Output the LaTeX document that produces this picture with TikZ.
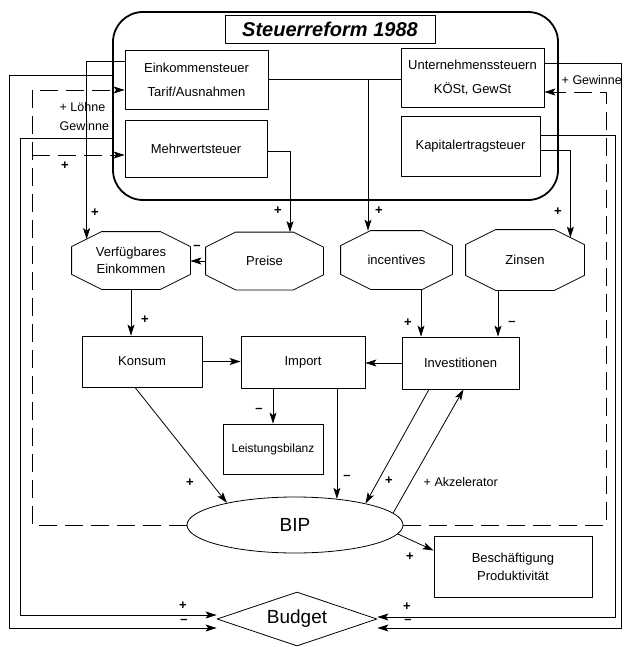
\documentclass[tikz,border=0pt]{standalone}
\usepackage{fontspec}
\setmainfont{Liberation Sans}
\usetikzlibrary{shapes.geometric,arrows.meta,calc}

\tikzset{
  kasten/.style={draw, align=center, inner sep=2pt},
  okt/.style={align=center, inner sep=0pt, minimum height=57pt},
  zeichen/.style={font=\fontsize{13}{13}\selectfont\bfseries},
  strich/.style={dash pattern=on 18pt off 8pt},
}
% Achteck um einen Knoten
\newcommand\achteck[1]{\draw ([xshift=30pt]#1.north west) -- ([xshift=-30pt]#1.north east) -- ([yshift=-15pt]#1.north east) -- ([yshift=15pt]#1.south east) -- ([xshift=-30pt]#1.south east) -- ([xshift=30pt]#1.south west) -- ([yshift=15pt]#1.south west) -- ([yshift=-15pt]#1.north west) -- cycle;}

\begin{document}
\begin{tikzpicture}[x=1pt, y=-1pt, line width=0.8pt, line join=round, >={Stealth[length=11pt,width=7pt,inset=2.5pt]}, font=\fontsize{13}{20}\selectfont]
\useasboundingbox (0,0) rectangle (623,647);
\coordinate (fla) at (9,0);   % links aussen
\coordinate (flb) at (20,0);  % links innen
\coordinate (flc) at (32,0);  % links gestrichelt
\coordinate (fra) at (621,0); % rechts aussen
\coordinate (frb) at (615,0); % rechts innen
\coordinate (frc) at (606,0); % rechts gestrichelt

% Steuerreform
\node[draw, line width=1.8pt, rounded corners=30pt, minimum width=445pt, minimum height=188pt] (reform) at (335.5,106) {};
\node[draw, minimum width=210pt, minimum height=28pt, font=\fontsize{20}{20}\selectfont\bfseries\itshape] (titel) at (330,29) {Steuerreform 1988};
\node[kasten, minimum width=143pt, minimum height=59pt] (ein) at (196.5,79.5) {Einkommensteuer\\[4pt]Tarif/Ausnahmen};
\node[kasten, minimum width=142pt, minimum height=57pt] (mwst) at (196,148.5) {Mehrwertsteuer};
\node[kasten, minimum width=143pt, minimum height=59pt] (unt) at (472.5,77.5) {Unternehmenssteuern\\[4pt]KÖSt, GewSt};
\node[kasten, minimum width=139pt, minimum height=60pt] (kap) at (470.5,146) {Kapitalertragsteuer};

% Achtecke
\node[okt, minimum width=118pt] (verf) at (131,260.5) {Verfügbares\\[-3pt]Einkommen};
\node[okt, minimum width=117pt] (preise) at (264.5,261) {Preise};
\node[okt, minimum width=111pt, minimum height=58pt] (inc) at (396.5,260) {incentives};
\node[okt, minimum width=118pt, minimum height=60pt] (zins) at (525,260) {Zinsen};
\foreach \n in {verf,preise,inc,zins} {\achteck{\n}}

\node[kasten, minimum width=120pt, minimum height=51pt] (kon) at (142,361.5) {Konsum};
\node[kasten, minimum width=124pt, minimum height=52pt] (imp) at (303,362) {Import};
\node[kasten, minimum width=117pt, minimum height=52pt] (inv) at (460.5,363) {Investitionen};
\node[kasten, minimum width=100pt, minimum height=50pt, inner sep=1pt, font=\fontsize{12}{12}\selectfont] (lb) at (273,449) {Leistungsbilanz};
\node[draw, ellipse, minimum width=216pt, minimum height=56pt, inner sep=0pt, font=\fontsize{19}{19}\selectfont] (bip) at (295,525) {BIP};
\node[kasten, minimum width=158pt, minimum height=61pt] (besch) at (513,566.5) {Beschäftigung\\[-2pt]Produktivität};
\node[draw, diamond, aspect=2.96, minimum width=160pt, minimum height=54pt, inner sep=0pt, font=\fontsize{19}{19}\selectfont] (bud) at (297,619) {Budget};

% Hilfspunkte
\coordinate (e1) at ([yshift=4.5pt]ein.west);
\coordinate (m1) at ([yshift=10.5pt]mwst.west);
\coordinate (m2) at ([yshift=-6.5pt]mwst.west);
\coordinate (u1) at ([yshift=14.5pt]unt.east);
\coordinate (k1) at ([yshift=11pt]kap.east);
\coordinate (b1) at ([yshift=4pt]bud.west);
\coordinate (b2) at ([yshift=-9pt]bud.west);
\coordinate (b3) at ([yshift=2pt]bud.east);
\coordinate (b4) at ([yshift=-9pt]bud.east);
\coordinate (v1) at ($(verf.north west)+(15,7.5)$);
\coordinate (p1) at ([xshift=25.5pt]preise.north);
\coordinate (i1) at ([xshift=-28.5pt]inc.north);
\coordinate (i2) at ([xshift=24.5pt]inc.south);
\coordinate (z1) at ($(zins.north east)+(-14,8)$);
\coordinate (z2) at ([xshift=-27pt]zins.south);

% Steuern -> Wirkungen
\draw[->] ([yshift=18pt]ein.west) -| (v1);
\draw (ein.east) -- (ein.east -| unt.west);
\draw[->] (ein.east -| i1) -- (i1);
\draw[->] ([yshift=-2.5pt]mwst.east) -| (p1);
\draw[->] ([yshift=-4pt]kap.east) -| (z1);

% Budget
\draw[->] (e1 -| reform.west) -- (e1 -| fla) -- (b2 -| fla) -- (b2);
\draw[->] (m1 -| reform.west) -- (m1 -| flb) -- (b1 -| flb) -- (b1);
\draw[->] (u1) -- (u1 -| fra) -- (b4 -| fra) -- (b4);
\draw[->] (k1) -- (k1 -| frb) -- (b3 -| frb) -- (b3);

% Rueckkopplung
\draw[strich,->] (bip.west) -- (bip.west -| flc) |- ([yshift=-10.5pt]ein.west);
\draw[strich,->] (m2 -| flc) -- (m2);
\draw[strich,->] (bip.east) -- (bip.east -| frc) |- ([yshift=-14.5pt]unt.east);

% Mitte
\draw[->] (preise.west) -- (preise.west -| verf.east);
\draw[->] (verf.south) -- (verf.south |- kon.north);
\draw[->] (kon.east) -- (kon.east -| imp.west);
\draw[->] (inv.west) -- (inv.west -| imp.east);
\draw[->] (imp.south -| lb.north) -- (lb.north);
\draw[->] (i2) -- (i2 |- inv.north);
\draw[->] (z2) -- (z2 |- inv.north);
\draw[->] ([xshift=-7pt]kon.south) -- (bip.162);
\draw[->] (bip.32 |- imp.south) -- (bip.32);
\draw[->] ([xshift=-31.5pt]inv.south) -- (bip.17);
\draw[->] (bip.7) -- ([xshift=3pt]inv.south);
\draw[->] (bip.-5) -- ([yshift=16pt]besch.west);

% Vorzeichen
\foreach \x/\y/\s in {95/213/+, 278/211/+, 379/211/+, 558/212/+, 197/247/--, 145/320/+, 259/410/--,
  408/323/+, 512/323/--, 190/483/+, 347/477/--, 389/481/+, 410/557/+, 65/166/+,
  183/606/+, 184/621/--, 407/607/+, 408/621/--}
  \node[zeichen] at (\x,\y) {\s};
\node[anchor=west, align=left, font=\fontsize{12.5}{19}\selectfont] (loehne) at (56,117) {+ Löhne\\Gewinne};
\node[anchor=west, font=\fontsize{12.5}{12.5}\selectfont] (gew) at (558,80) {+ Gewinne};
\node[anchor=west, font=\fontsize{12.5}{12.5}\selectfont] (akz) at (420,482) {+ Akzelerator};
\end{tikzpicture}
\end{document}
